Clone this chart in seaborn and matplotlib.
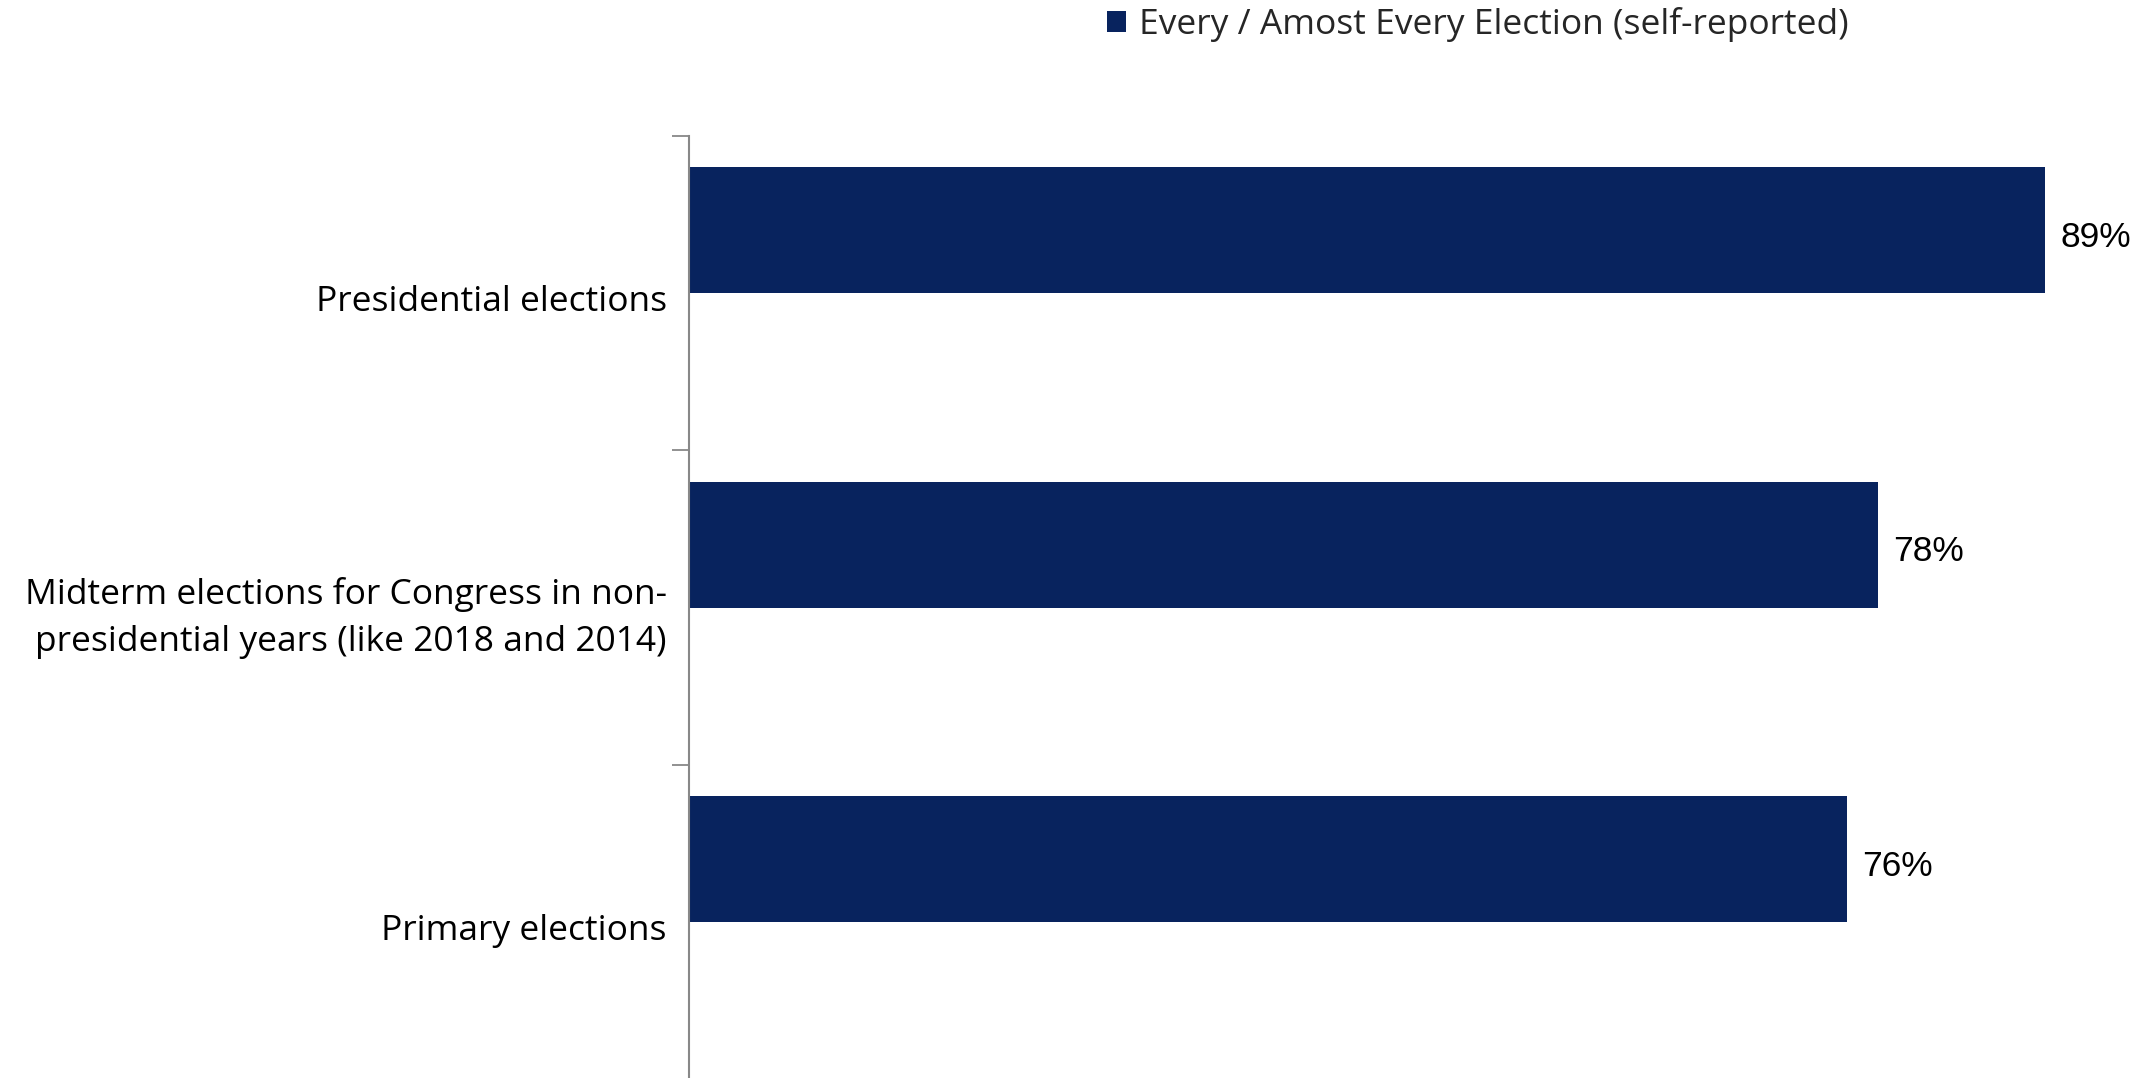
import matplotlib
matplotlib.use("Agg")
import matplotlib.pyplot as plt
from matplotlib.patches import Patch
import pandas as pd
import seaborn as sns

categories = [
    "Presidential elections",
    "Midterm elections for Congress in non-\npresidential years (like 2018 and 2014)",
    "Primary elections",
]
series_name = "Every / Amost Every Election (self-reported)"
values = [89, 78, 76]

BAR_COLOR = "#08235E"

sns.set_theme(style="white")
plt.rcParams["font.family"] = ["Open Sans", "DejaVu Sans"]

# second (empty) hue level keeps each bar in the upper half of its band
df = pd.DataFrame({
    "category": categories * 2,
    "value": values + [0] * len(values),
    "series": [series_name] * len(values) + ["_spacer"] * len(values),
})

fig = plt.figure(figsize=(21.53, 10.78), dpi=100)
ax = fig.add_axes([0.32, -0.0015, 0.6725, 0.8755])

sns.barplot(
    data=df, y="category", x="value", hue="series",
    hue_order=[series_name, "_spacer"], order=categories,
    palette=[BAR_COLOR, "white"], saturation=1, width=0.8, dodge=True,
    orient="h", ax=ax, legend=False, linewidth=0,
)

ax.set_xlim(0, 95)
ax.set_ylim(2.5, -0.5)
ax.set_xlabel("")
ax.set_ylabel("")
ax.set_xticks([])

# category boundaries carry the tick marks; labels sit at band centres
ax.set_yticks([-0.5, 0.5, 1.5, 2.5])
ax.set_yticklabels([])
ax.set_yticks([0.015, 1.0, 2.015], minor=True)
ax.set_yticklabels(categories, minor=True, fontsize=25.5, ha="right",
                   color="black", linespacing=1.5)
ax.tick_params(axis="y", which="major", length=12, width=1.3, color="#888888", left=True)
ax.tick_params(axis="y", which="minor", length=0, pad=16)

for side in ["top", "right", "bottom"]:
    ax.spines[side].set_visible(False)
ax.spines["left"].set_color("#888888")
ax.spines["left"].set_linewidth(1.5)

labels = ax.bar_label(ax.containers[0], labels=[f"{v}%" for v in values],
                      padding=11, fontsize=25.5, color="black",
                      fontfamily=["Liberation Sans", "DejaVu Sans"])
# nudge the value labels slightly below the bar centre (offset points)
for t in labels:
    x, y = t.get_position()
    t.set_position((x, y - 5))

handle = Patch(facecolor=BAR_COLOR, edgecolor="none")
fig.legend(handles=[handle], labels=[series_name], loc="center left",
           bbox_to_anchor=(0.514, 0.977), frameon=False, fontsize=25.5,
           handlelength=0.55, handleheight=0.55, handletextpad=0.35,
           borderpad=0, borderaxespad=0)

fig.savefig("out.png", dpi=100, facecolor="white")
